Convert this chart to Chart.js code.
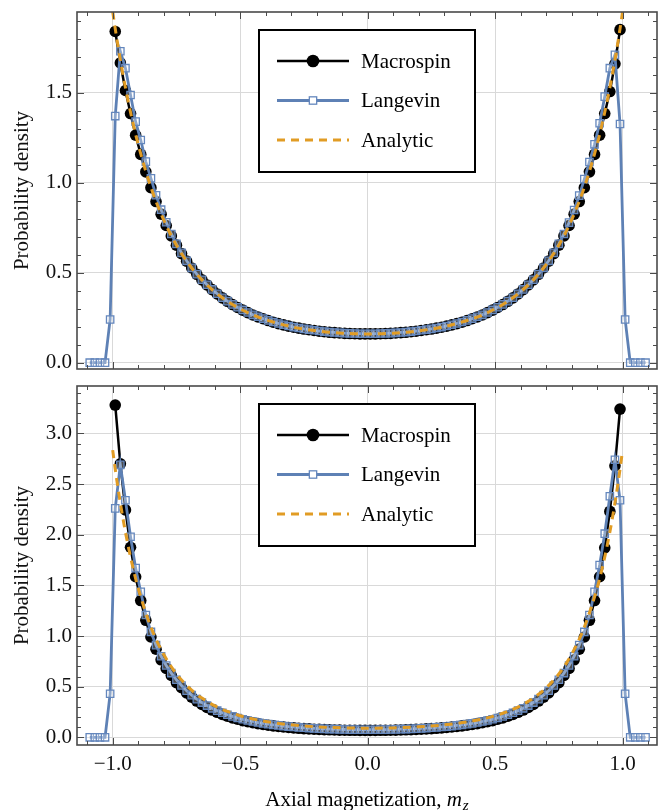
<!DOCTYPE html>
<html><head><meta charset="utf-8">
<script src="https://cdn.jsdelivr.net/npm/chart.js@4.4.0/dist/chart.umd.min.js"></script>
<style>
html,body{margin:0;padding:0;background:#fff;}
#wrap{position:relative;width:668px;height:810px;overflow:hidden;background:#fff;}
canvas{position:absolute;left:0;}
</style></head><body>
<div id="wrap">
<canvas id="cTop" width="668" height="378" style="top:0"></canvas>
<canvas id="cBot" width="668" height="432" style="top:378px"></canvas>
</div>
<script>
// ---------------- data ----------------
const seriesNames = ['Macrospin', 'Langevin', 'Analytic'];

const binCenters = [-0.99,-0.97,-0.95,-0.93,-0.91,-0.89,-0.87,-0.85,-0.83,-0.81,-0.79,-0.77,-0.75,-0.73,-0.71,-0.69,-0.67,-0.65,-0.63,-0.61,-0.59,-0.57,-0.55,-0.53,-0.51,-0.49,-0.47,-0.45,-0.43,-0.41,-0.39,-0.37,-0.35,-0.33,-0.31,-0.29,-0.27,-0.25,-0.23,-0.21,-0.19,-0.17,-0.15,-0.13,-0.11,-0.09,-0.07,-0.05,-0.03,-0.01,
 0.01,0.03,0.05,0.07,0.09,0.11,0.13,0.15,0.17,0.19,0.21,0.23,0.25,0.27,0.29,0.31,0.33,0.35,0.37,0.39,0.41,0.43,0.45,0.47,0.49,0.51,0.53,0.55,0.57,0.59,0.61,0.63,0.65,0.67,0.69,0.71,0.73,0.75,0.77,0.79,0.81,0.83,0.85,0.87,0.89,0.91,0.93,0.95,0.97,0.99];

const langevinBins = [-1.09,-1.07,-1.05,-1.03,-1.01,
 -0.99,-0.97,-0.95,-0.93,-0.91,-0.89,-0.87,-0.85,-0.83,-0.81,-0.79,-0.77,-0.75,-0.73,-0.71,-0.69,-0.67,-0.65,-0.63,-0.61,-0.59,-0.57,-0.55,-0.53,-0.51,-0.49,-0.47,-0.45,-0.43,-0.41,-0.39,-0.37,-0.35,-0.33,-0.31,-0.29,-0.27,-0.25,-0.23,-0.21,-0.19,-0.17,-0.15,-0.13,-0.11,-0.09,-0.07,-0.05,-0.03,-0.01,
 0.01,0.03,0.05,0.07,0.09,0.11,0.13,0.15,0.17,0.19,0.21,0.23,0.25,0.27,0.29,0.31,0.33,0.35,0.37,0.39,0.41,0.43,0.45,0.47,0.49,0.51,0.53,0.55,0.57,0.59,0.61,0.63,0.65,0.67,0.69,0.71,0.73,0.75,0.77,0.79,0.81,0.83,0.85,0.87,0.89,0.91,0.93,0.95,0.97,0.99,
 1.01,1.03,1.05,1.07,1.09];

const analyticX = [-1,-0.99,-0.98,-0.96,-0.94,-0.92,-0.9,-0.85,-0.8,-0.75,-0.7,-0.65,-0.6,-0.55,-0.5,-0.45,-0.4,-0.3,-0.2,-0.1,0,
 0.1,0.2,0.3,0.4,0.45,0.5,0.55,0.6,0.65,0.7,0.75,0.8,0.85,0.9,0.92,0.94,0.96,0.98,0.99,1];

// top panel
const macrospinTop = [1.840,1.665,1.512,1.384,1.264,1.157,1.060,0.972,0.895,0.825,0.762,0.704,0.653,0.606,0.564,0.526,0.491,0.460,0.432,0.406,0.382,0.360,0.341,0.323,0.307,0.292,0.278,0.265,0.254,0.244,0.234,0.225,0.217,0.210,0.203,0.197,0.192,0.187,0.183,0.179,0.175,0.172,0.169,0.167,0.165,0.163,0.162,0.161,0.160,0.160,
 0.160,0.160,0.161,0.162,0.163,0.165,0.167,0.169,0.172,0.175,0.179,0.183,0.187,0.192,0.197,0.203,0.210,0.217,0.225,0.234,0.244,0.254,0.265,0.278,0.292,0.307,0.323,0.341,0.360,0.382,0.406,0.432,0.460,0.491,0.526,0.564,0.606,0.653,0.704,0.762,0.825,0.895,0.972,1.060,1.157,1.264,1.384,1.506,1.660,1.850];

const langevinTop = [0,0,0,0,0.240,
 1.370,1.730,1.636,1.487,1.339,1.237,1.117,1.024,0.930,0.850,0.780,0.715,0.660,0.610,
 0.566,0.527,0.492,0.461,0.433,0.407,0.383,0.361,0.342,0.324,0.308,0.293,0.279,0.266,0.255,0.245,0.235,0.226,0.218,0.211,0.204,0.198,0.193,0.188,0.184,0.180,0.176,0.173,0.170,0.168,0.166,0.164,0.163,0.162,0.161,0.161,
 0.161,0.161,0.162,0.163,0.164,0.166,0.168,0.170,0.173,0.176,0.180,0.184,0.188,0.193,0.198,0.204,0.211,0.218,0.226,0.235,0.245,0.255,0.266,0.279,0.293,0.308,0.324,0.342,0.361,0.383,0.407,0.433,0.461,0.492,0.527,0.566,
 0.610,0.660,0.715,0.778,0.848,0.928,1.020,1.115,1.213,1.330,1.478,1.636,1.710,1.326,
 0.240,0,0,0,0];

const analyticTop = [1.950,1.855,1.766,1.602,1.457,1.328,1.212,0.974,0.793,0.653,0.545,0.460,0.394,0.341,0.299,0.265,0.239,0.200,0.177,0.164,0.160,
 0.164,0.177,0.200,0.239,0.265,0.299,0.341,0.394,0.460,0.545,0.653,0.793,0.974,1.212,1.328,1.457,1.602,1.766,1.855,1.950];

// bottom panel
const macrospinBottom = [3.280,2.700,2.245,1.876,1.585,1.350,1.155,0.990,0.870,0.765,0.680,0.610,0.540,0.489,0.439,0.396,0.358,0.325,0.295,0.269,0.247,0.226,0.208,0.192,0.178,0.165,0.154,0.144,0.135,0.127,0.119,0.113,0.107,0.102,0.097,0.093,0.089,0.086,0.083,0.080,0.078,0.076,0.074,0.072,0.071,0.070,0.069,0.069,0.068,0.068,
 0.068,0.068,0.069,0.069,0.070,0.071,0.072,0.074,0.076,0.078,0.080,0.083,0.086,0.089,0.093,0.097,0.102,0.107,0.113,0.119,0.127,0.135,0.144,0.154,0.165,0.178,0.192,0.208,0.226,0.247,0.269,0.295,0.325,0.358,0.396,0.439,0.489,0.540,0.610,0.680,0.765,0.870,0.990,1.155,1.350,1.585,1.870,2.230,2.680,3.240];

const langevinBottom = [0,0,0,0,0.430,
 2.260,2.690,2.340,1.980,1.670,1.437,1.207,1.040,0.910,0.800,0.709,0.634,0.568,0.511,0.460,0.416,0.377,0.343,0.313,0.286,0.263,0.242,0.223,0.206,0.191,0.178,0.166,0.156,0.146,0.137,0.130,0.123,0.117,0.111,0.106,0.102,0.098,0.094,0.091,0.088,0.085,0.083,0.081,0.080,0.078,0.077,0.076,0.076,0.075,0.075,
 0.075,0.075,0.076,0.076,0.077,0.078,0.080,0.081,0.083,0.085,0.088,0.091,0.094,0.098,0.102,0.106,0.111,0.117,0.123,0.130,0.137,0.146,0.156,0.166,0.178,0.191,0.206,0.223,0.242,0.263,0.286,0.313,0.343,0.377,0.416,0.460,0.511,0.568,0.634,0.709,0.800,0.910,1.040,1.207,1.437,1.700,2.010,2.380,2.740,2.340,
 0.430,0,0,0,0];

const analyticBottom = [2.835,2.647,2.473,2.164,1.897,1.669,1.472,1.088,0.819,0.627,0.488,0.387,0.312,0.256,0.213,0.181,0.156,0.123,0.103,0.093,0.090,
 0.093,0.103,0.123,0.156,0.181,0.213,0.256,0.312,0.387,0.488,0.627,0.819,1.088,1.472,1.669,1.897,2.164,2.473,2.647,2.835];

// axes
const xRange = [-1.14, 1.135];
const yTopRange = [-0.035, 1.948];
const yBottomRange = [-0.076, 3.468];
const xMajorTicks = [-1, -0.5, 0, 0.5, 1];
const xMinorTicks = [-1.1,-1,-0.9,-0.8,-0.7,-0.6,-0.5,-0.4,-0.3,-0.2,-0.1,0,0.1,0.2,0.3,0.4,0.5,0.6,0.7,0.8,0.9,1,1.1];
const yTopMajorTicks = [0, 0.5, 1, 1.5];
const yTopMinorTicks = [0,0.1,0.2,0.3,0.4,0.5,0.6,0.7,0.8,0.9,1,1.1,1.2,1.3,1.4,1.5,1.6,1.7,1.8,1.9];
const yBottomMajorTicks = [0, 0.5, 1, 1.5, 2, 2.5, 3];
const yBottomMinorTicks = [0,0.1,0.2,0.3,0.4,0.5,0.6,0.7,0.8,0.9,1,1.1,1.2,1.3,1.4,1.5,1.6,1.7,1.8,1.9,2,2.1,2.2,2.3,2.4,2.5,2.6,2.7,2.8,2.9,3,3.1,3.2,3.3,3.4];
const yTitle = 'Probability density';
const xTitleParts = ['Axial magnetization, ', 'm', 'z'];

// ---------------- drawing ----------------
const FONT = '"Liberation Serif", "Times New Roman", serif';
const COL_MACRO = '#000000';
const COL_LANG = '#5E81B5';
const COL_ANA = '#E19C24';

const zip = (xs, ys) => xs.map((x, i) => ({x: x, y: ys[i]}));
const fmt = v => (v < 0 ? '\u2212' : '') + Math.abs(v).toFixed(1);

function makeDecor(cfg) {
  return {
    id: 'decor',
    afterDraw(chart) {
      const ctx = chart.ctx, a = chart.chartArea, sx = chart.scales.x, sy = chart.scales.y;
      const isMajor = (v, list) => list.some(m => Math.abs(m - v) < 1e-6);
      ctx.save();
      ctx.strokeStyle = '#4a4a4a';
      ctx.lineWidth = 1;
      ctx.beginPath();
      xMinorTicks.forEach(v => {
        const p = Math.round(sx.getPixelForValue(v)) + 0.5;
        const L = isMajor(v, xMajorTicks) ? 7 : 4;
        ctx.moveTo(p, a.bottom); ctx.lineTo(p, a.bottom - L);
        ctx.moveTo(p, a.top); ctx.lineTo(p, a.top + L);
      });
      cfg.yMinor.forEach(v => {
        const p = Math.round(sy.getPixelForValue(v)) + 0.5;
        const L = isMajor(v, cfg.yMajor) ? 7 : 4;
        ctx.moveTo(a.left, p); ctx.lineTo(a.left + L, p);
        ctx.moveTo(a.right, p); ctx.lineTo(a.right - L, p);
      });
      ctx.stroke();
      ctx.lineWidth = 1.6;
      ctx.strokeStyle = '#4a4a4a';
      ctx.strokeRect(a.left, a.top, a.right - a.left, a.bottom - a.top);

      const bx = a.left + 182, by = a.top + 18, bw = 216, bh = 142;
      ctx.fillStyle = '#ffffff';
      ctx.fillRect(bx, by, bw, bh);
      ctx.lineWidth = 2;
      ctx.strokeStyle = '#000';
      ctx.strokeRect(bx, by, bw, bh);
      const rows = [31, 70.5, 110];
      chart.data.datasets.forEach((ds, i) => {
        const y = by + rows[i];
        ctx.save();
        ctx.strokeStyle = ds.borderColor;
        ctx.lineWidth = ds.borderWidth;
        ctx.setLineDash(ds.borderDash || []);
        ctx.beginPath();
        ctx.moveTo(bx + 18, y); ctx.lineTo(bx + 90, y);
        ctx.stroke();
        ctx.setLineDash([]);
        const mx = bx + 54;
        if (ds.pointStyle === 'circle' && ds.pointRadius > 0) {
          ctx.fillStyle = ds.pointBackgroundColor;
          ctx.beginPath(); ctx.arc(mx, y, ds.pointRadius + 0.5, 0, Math.PI * 2); ctx.fill();
        } else if (ds.pointStyle === 'rect' && ds.pointRadius > 0) {
          const s = ds.pointRadius * Math.SQRT1_2;
          ctx.fillStyle = '#ffffff';
          ctx.fillRect(mx - s, y - s, 2 * s, 2 * s);
          ctx.strokeStyle = ds.pointBorderColor;
          ctx.lineWidth = ds.pointBorderWidth;
          ctx.strokeRect(mx - s, y - s, 2 * s, 2 * s);
        }
        ctx.fillStyle = '#000';
        ctx.font = '21px ' + FONT;
        ctx.textBaseline = 'middle';
        ctx.textAlign = 'left';
        ctx.fillText(ds.label, bx + 102, y + 1);
        ctx.restore();
      });

      if (cfg.xTitle) {
        const f1 = '21px ' + FONT, f2 = 'italic 21px ' + FONT, f3 = 'italic 15px ' + FONT;
        ctx.font = f1; const w1 = ctx.measureText(xTitleParts[0]).width;
        ctx.font = f2; const w2 = ctx.measureText(xTitleParts[1]).width;
        ctx.font = f3; const w3 = ctx.measureText(xTitleParts[2]).width;
        const total = w1 + w2 + w3 + 1;
        let x0 = (a.left + a.right) / 2 - total / 2;
        const base = chart.height - 4;
        ctx.fillStyle = '#000';
        ctx.textAlign = 'left';
        ctx.textBaseline = 'alphabetic';
        ctx.font = f1; ctx.fillText(xTitleParts[0], x0, base);
        ctx.font = f2; ctx.fillText(xTitleParts[1], x0 + w1, base);
        ctx.font = f3; ctx.fillText(xTitleParts[2], x0 + w1 + w2 + 1, base + 4);
      }
      ctx.restore();
    }
  };
}

function makeChart(id, cfg) {
  const datasets = [
    {label: seriesNames[0], data: zip(binCenters, cfg.ms), showLine: true,
     borderColor: COL_MACRO, borderWidth: 2.5, pointStyle: 'circle', pointRadius: 5.8,
     pointBackgroundColor: COL_MACRO, pointBorderColor: COL_MACRO, pointBorderWidth: 0, order: 3},
    {label: seriesNames[1], data: zip(langevinBins, cfg.lv), showLine: true,
     borderColor: COL_LANG, borderWidth: 2.8, pointStyle: 'rect', pointRadius: 5.2,
     pointBackgroundColor: 'rgba(255,255,255,0.3)', pointBorderColor: '#6487bd', pointBorderWidth: 1.3, order: 2},
    {label: seriesNames[2], data: zip(analyticX, cfg.an), showLine: true,
     borderColor: COL_ANA, borderWidth: 3, borderDash: [8, 6], pointRadius: 0,
     cubicInterpolationMode: 'monotone', order: 1}
  ];
  return new Chart(document.getElementById(id), {
    type: 'scatter',
    data: {datasets: datasets},
    options: {
      responsive: false,
      animation: false,
      devicePixelRatio: 1,
      events: [],
      layout: {padding: {left: 0, right: 11, top: cfg.padTop, bottom: 0}},
      plugins: {legend: {display: false}, tooltip: {enabled: false}},
      scales: {
        x: {
          type: 'linear', min: xRange[0], max: xRange[1],
          afterBuildTicks: s => { s.ticks = xMajorTicks.map(v => ({value: v})); },
          afterFit: s => { s.height = cfg.xAxisH; s.paddingLeft = 0; s.paddingRight = 0; },
          grid: {color: '#d9d9d9', lineWidth: 1, drawTicks: false},
          border: {display: false},
          ticks: {display: cfg.showX, autoSkip: false, maxRotation: 0, padding: 7,
                  color: '#111', font: {family: FONT, size: 21}, callback: v => fmt(v)}
        },
        y: {
          type: 'linear', min: cfg.yRange[0], max: cfg.yRange[1],
          afterBuildTicks: s => { s.ticks = cfg.yMajor.map(v => ({value: v})); },
          afterFit: s => { s.width = 77; s.paddingTop = 0; s.paddingBottom = 0; },
          grid: {color: '#d9d9d9', lineWidth: 1, drawTicks: false},
          border: {display: false},
          ticks: {autoSkip: false, padding: 5, color: '#111',
                  font: {family: FONT, size: 21}, callback: v => fmt(v)},
          title: {display: true, text: yTitle, color: '#111',
                  font: {family: FONT, size: 21}, padding: {top: 10, bottom: 0}}
        }
      }
    },
    plugins: [makeDecor(cfg)]
  });
}

makeChart('cTop', {ms: macrospinTop, lv: langevinTop, an: analyticTop,
  yRange: yTopRange, yMajor: yTopMajorTicks, yMinor: yTopMinorTicks,
  showX: false, padTop: 12, xAxisH: 9, xTitle: false});
makeChart('cBot', {ms: macrospinBottom, lv: langevinBottom, an: analyticBottom,
  yRange: yBottomRange, yMajor: yBottomMajorTicks, yMinor: yBottomMinorTicks,
  showX: true, padTop: 8, xAxisH: 65, xTitle: true});
</script>
</body></html>
